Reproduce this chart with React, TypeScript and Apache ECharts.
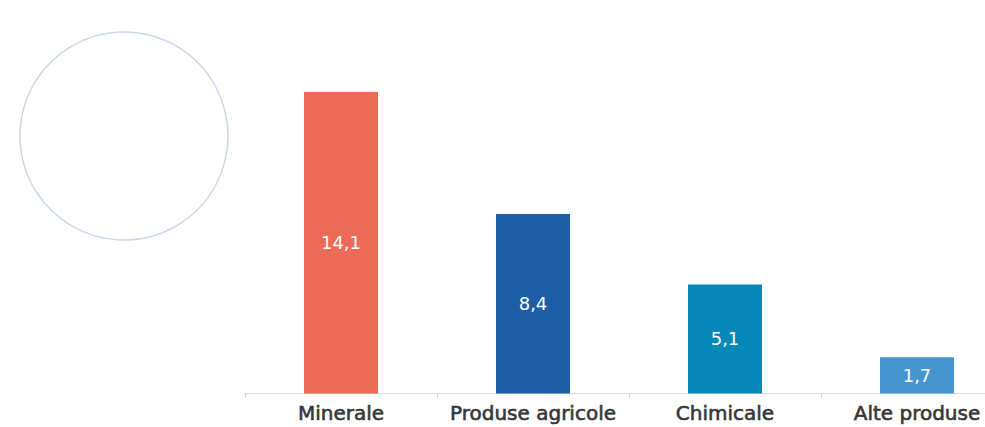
import React, { useEffect, useRef } from "react";
import * as echarts from "echarts";

// Export structure by product group
const categories: string[] = ["Minerale", "Produse agricole", "Chimicale", "Alte produse"];
const values: number[] = [14.1, 8.4, 5.1, 1.7];
const barColors: string[] = ["#EC6B56", "#1B5EA6", "#0388B7", "#4595D1"];

const formatComma = (v: number) => v.toFixed(1).replace(".", ",");

export default function App() {
  const ref = useRef<HTMLDivElement>(null);

  useEffect(() => {
    if (!ref.current) return;
    const chart = echarts.init(ref.current, undefined, { renderer: "svg" });
    chart.setOption({
      animation: false,
      backgroundColor: "#ffffff",
      // plot area runs past the visible frame on the right
      grid: { left: 245, right: 0, top: 51.5, bottom: 33.5, containLabel: false },
      xAxis: {
        type: "category",
        data: categories,
        axisLine: { show: true, lineStyle: { color: "#dcdcdc", width: 1 } },
        axisTick: { show: true, length: 4, lineStyle: { color: "#d0d0d0" } },
        axisLabel: {
          color: "#363636",
          fontFamily: "DejaVu Sans, Verdana, sans-serif",
          fontSize: 20,
          margin: 9,
          interval: 0,
          textBorderColor: "#363636",
          textBorderWidth: 0.6,
        },
      },
      yAxis: {
        type: "value",
        min: 0,
        max: 16,
        show: false,
        splitLine: { show: false },
      },
      series: [
        {
          type: "bar",
          barWidth: 74,
          data: values.map((v, i) => ({ value: v, itemStyle: { color: barColors[i] } })),
          label: {
            show: true,
            position: "inside",
            color: "#ffffff",
            fontFamily: "DejaVu Sans, Verdana, sans-serif",
            fontSize: 18,
            formatter: (p: any) => formatComma(p.value),
          },
        },
      ],
      graphic: [
        {
          type: "circle",
          shape: { cx: 124, cy: 136, r: 104 },
          style: { fill: "none", stroke: "rgba(140,165,205,0.45)", lineWidth: 1.5 },
          silent: true,
        },
      ],
    });
    return () => chart.dispose();
  }, []);

  return (
    <div
      style={{
        position: "fixed",
        left: 0,
        top: 0,
        width: 985,
        height: 427,
        overflow: "hidden",
        background: "#fff",
      }}
    >
      <div ref={ref} style={{ width: 1013, height: 427 }} />
    </div>
  );
}
